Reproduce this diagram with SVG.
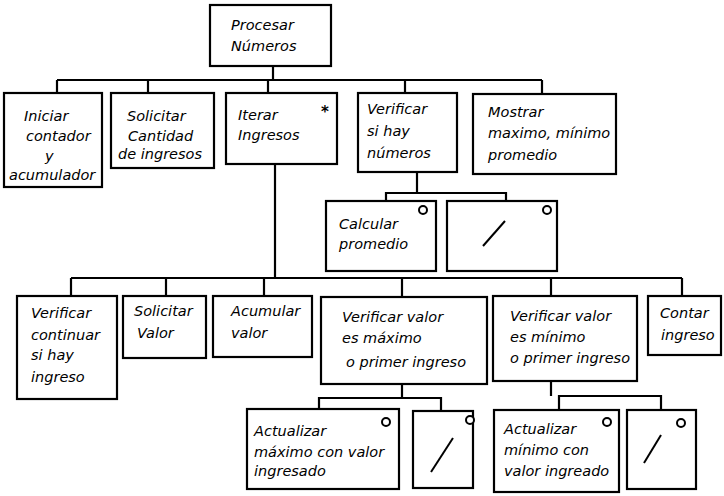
<svg xmlns="http://www.w3.org/2000/svg" width="724" height="496" viewBox="0 0 724 496">
<style>
rect.n{fill:#fff;stroke:#000;stroke-width:2.2}
.c line, .c polyline{stroke:#000;stroke-width:2.2;fill:none}
text{font-family:"DejaVu Sans",sans-serif;font-style:italic;font-size:14.5px;fill:#000}
text.star{font-style:normal;font-weight:bold;font-size:15px}
circle.o{fill:#fff;stroke:#000;stroke-width:2}
line.s{stroke:#000;stroke-width:2}
</style>
<rect width="724" height="496" fill="#fff"/>
<g class="c" id="connectors">
<line x1="273" y1="66" x2="273" y2="80"/>
<line x1="57" y1="80" x2="542" y2="80"/>
<line x1="57" y1="80" x2="57" y2="93"/>
<line x1="148" y1="80" x2="148" y2="93"/>
<line x1="268" y1="80" x2="268" y2="93"/>
<line x1="405" y1="80" x2="405" y2="93"/>
<line x1="542" y1="80" x2="542" y2="94"/>
<line x1="417" y1="172" x2="417" y2="193"/>
<polyline points="386,201 386,193 506,193 506,201"/>
<line x1="275" y1="164" x2="275" y2="278"/>
<line x1="71" y1="278" x2="682" y2="278"/>
<line x1="71" y1="278" x2="71" y2="296"/>
<line x1="166" y1="278" x2="166" y2="296"/>
<line x1="264" y1="278" x2="264" y2="296"/>
<line x1="402" y1="278" x2="402" y2="297"/>
<line x1="551" y1="278" x2="551" y2="296"/>
<line x1="682" y1="278" x2="682" y2="296"/>
<line x1="402" y1="384" x2="402" y2="398"/>
<polyline points="319,409 319,398 441,398 441,411"/>
<line x1="551" y1="381" x2="551" y2="396"/>
<polyline points="559,410 559,396 661,396 661,410"/>
</g>
<g id="procesar"><rect class="n" x="210" y="5" width="121" height="61"/><text x="231" y="30">Procesar</text><text x="231" y="51">Números</text></g>
<g id="iniciar"><rect class="n" x="4" y="93" width="98" height="94"/><text x="24" y="121">Iniciar</text><text x="26" y="141">contador</text><text x="45" y="161">y</text><text x="9" y="180">acumulador</text></g>
<g id="solicitar-cantidad"><rect class="n" x="111" y="93" width="103" height="75"/><text x="127" y="121">Solicitar</text><text x="128" y="141">Cantidad</text><text x="118" y="159">de ingresos</text></g>
<g id="iterar"><rect class="n" x="226" y="93" width="111" height="71"/><text x="238" y="120">Iterar</text><text x="238" y="140">Ingresos</text><text class="star" x="321" y="117">*</text></g>
<g id="verificar-numeros"><rect class="n" x="358" y="93" width="99" height="79"/><text x="367" y="114">Verificar</text><text x="367" y="136">si hay</text><text x="367" y="158">números</text></g>
<g id="mostrar"><rect class="n" x="473" y="94" width="143" height="80"/><text x="488" y="117">Mostrar</text><text x="488" y="138">maximo, mínimo</text><text x="488" y="160">promedio</text></g>
<g id="calcular"><rect class="n" x="326" y="201" width="110" height="70"/><text x="339" y="229">Calcular</text><text x="339" y="249">promedio</text><circle class="o" cx="423" cy="210" r="4"/></g>
<g id="nada1"><rect class="n" x="447" y="201" width="110" height="70"/><circle class="o" cx="547" cy="210" r="4"/><line class="s" x1="483" y1="246" x2="505" y2="221"/></g>
<g id="verificar-continuar"><rect class="n" x="17" y="296" width="100" height="103"/><text x="31" y="318">Verificar</text><text x="31" y="340">continuar</text><text x="31" y="360">si hay</text><text x="31" y="382">ingreso</text></g>
<g id="solicitar-valor"><rect class="n" x="123" y="296" width="83" height="62"/><text x="134" y="316">Solicitar</text><text x="137" y="338">Valor</text></g>
<g id="acumular"><rect class="n" x="213" y="296" width="99" height="61"/><text x="231" y="316">Acumular</text><text x="231" y="338">valor</text></g>
<g id="verificar-maximo"><rect class="n" x="321" y="297" width="166" height="87"/><text x="342" y="322">Verificar valor</text><text x="342" y="343">es máximo</text><text x="346" y="367">o primer ingreso</text></g>
<g id="verificar-minimo"><rect class="n" x="493" y="296" width="144" height="85"/><text x="510" y="321">Verificar valor</text><text x="510" y="342">es mínimo</text><text x="510" y="363">o primer ingreso</text></g>
<g id="contar"><rect class="n" x="648" y="296" width="73" height="59"/><text x="660" y="318">Contar</text><text x="661" y="340">ingreso</text></g>
<g id="actualizar-maximo"><rect class="n" x="247" y="409" width="152" height="80"/><text x="254" y="436">Actualizar</text><text x="254" y="457">máximo con valor</text><text x="254" y="476">ingresado</text><circle class="o" cx="386" cy="422" r="4"/></g>
<g id="nada2"><rect class="n" x="413" y="411" width="60" height="77"/><circle class="o" cx="470" cy="420" r="4"/><line class="s" x1="431" y1="472" x2="453" y2="438"/></g>
<g id="actualizar-minimo"><rect class="n" x="494" y="410" width="125" height="82"/><text x="504" y="434">Actualizar</text><text x="504" y="455">mínimo con</text><text x="504" y="476">valor ingreado</text><circle class="o" cx="607" cy="422" r="4"/></g>
<g id="nada3"><rect class="n" x="627" y="410" width="69" height="79"/><circle class="o" cx="681" cy="423" r="4"/><line class="s" x1="644" y1="463" x2="661" y2="435"/></g>
</svg>
